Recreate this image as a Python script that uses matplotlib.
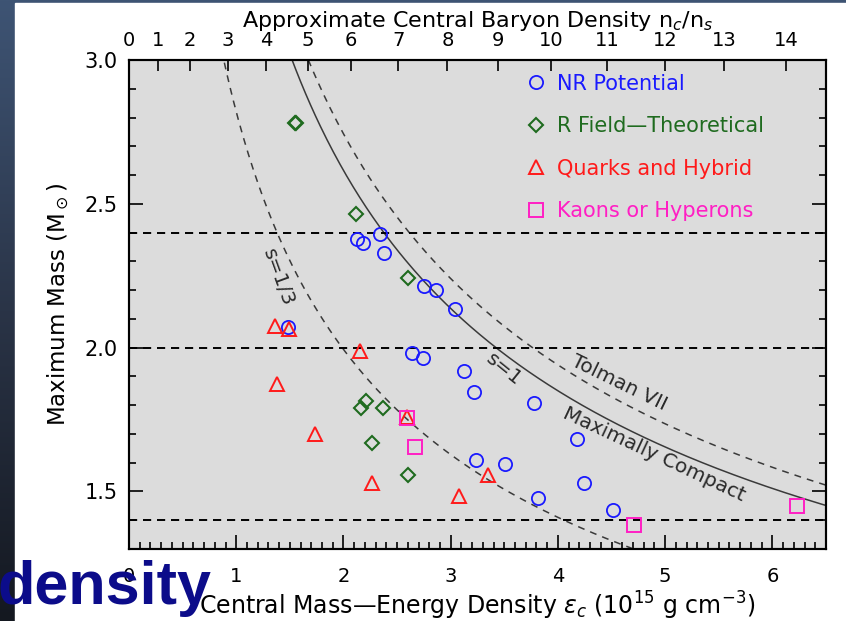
import numpy as np
import matplotlib
matplotlib.use('Agg')
import matplotlib.pyplot as plt

from matplotlib.colors import LinearSegmentedColormap
from matplotlib.patches import Rectangle
from matplotlib.ticker import MultipleLocator, FormatStrFormatter

# central energy density (1e15 g/cm^3) and maximum mass (M_sun)
nr_eps = [1.48, 2.13, 2.18, 2.34, 2.38, 2.75, 2.86, 3.04, 2.64, 2.74,
          3.12, 3.22, 3.78, 4.18, 3.24, 3.51, 4.24, 3.81, 4.51]
nr_mass = [2.073, 2.378, 2.365, 2.396, 2.33, 2.215, 2.20, 2.135, 1.983, 1.965,
           1.92, 1.847, 1.809, 1.684, 1.611, 1.597, 1.531, 1.476, 1.434]

rf_eps = [1.55, 1.56, 2.12, 2.60, 2.21, 2.16, 2.37, 2.27, 2.60]
rf_mass = [2.78, 2.78, 2.465, 2.243, 1.816, 1.79, 1.79, 1.667, 1.556]

qh_eps = [1.36, 1.49, 2.15, 1.38, 2.59, 1.73, 2.27, 3.35, 3.08]
qh_mass = [2.076, 2.066, 1.99, 1.872, 1.76, 1.70, 1.528, 1.556, 1.483]

kh_eps = [2.59, 2.67, 4.71, 6.23]
kh_mass = [1.757, 1.653, 1.382, 1.451]

series_labels = ['NR Potential', 'R Field\u2014Theoretical', 'Quarks and Hybrid', 'Kaons or Hyperons']

# M = k / sqrt(eps) limits, k
k_compact = 3.70
k_tolman = 3.88
k_third = 2.82

mass_limits = [2.4, 2.0, 1.4]

# top axis: baryon density n_c/n_s and where each tick sits on the eps axis
top_labels = list(range(15))
top_tick_eps = [0.0, 0.27, 0.57, 0.92, 1.28, 1.67, 2.07, 2.51, 2.97, 3.44,
                3.94, 4.46, 5.00, 5.55, 6.13]


def main():
    W, H = 846, 621
    fig = plt.figure(figsize=(W / 100, H / 100), dpi=100)
    plt.rcParams['font.family'] = ['DejaVu Sans']

    # slide background
    bg = fig.add_axes([0, 0, 1, 1])
    cmap = LinearSegmentedColormap.from_list('slide', ['#141820', '#2a3447', '#3e5474'])
    grad = np.linspace(0, 1, 256).reshape(-1, 1)
    bg.imshow(grad, aspect='auto', cmap=cmap, extent=[0, 1, 0, 1], origin='lower')
    bg.add_patch(Rectangle((15 / W, 0), 1, 1 - 3 / H, color='white'))
    bg.set_xlim(0, 1)
    bg.set_ylim(0, 1)
    bg.axis('off')

    ax = fig.add_axes([129 / W, 1 - 549 / H, 697 / W, 489 / H])
    ax.set_facecolor('#dcdcdc')
    ax.set_xlim(0, 6.5)
    ax.set_ylim(1.3, 3.0)

    eps = np.linspace(0.5, 6.6, 400)
    ax.plot(eps, k_compact / np.sqrt(eps), color='#3a3a3a', lw=1.1)
    ax.plot(eps, k_tolman / np.sqrt(eps), color='#3a3a3a', lw=1.1, dashes=(4.5, 4))
    ax.plot(eps, k_third / np.sqrt(eps), color='#3a3a3a', lw=1.1, dashes=(4.5, 4))
    for m in mass_limits:
        ax.axhline(m, color='black', lw=1.4, dashes=(4.2, 3))

    h1, = ax.plot(nr_eps, nr_mass, 'o', ms=9.5, mfc='none', mec='#1a1aff', mew=1.3,
                  ls='none', label=series_labels[0])
    h2, = ax.plot(rf_eps, rf_mass, 'D', ms=7.2, mfc='none', mec='#1f6b1f', mew=1.5,
                  ls='none', label=series_labels[1])
    h3, = ax.plot(qh_eps, qh_mass, '^', ms=9.5, mfc='none', mec='#ff1a1a', mew=1.4,
                  ls='none', label=series_labels[2])
    h4, = ax.plot(kh_eps, kh_mass, 's', ms=9.5, mfc='none', mec='#ff1fc4', mew=1.4,
                  ls='none', label=series_labels[3])

    ax.legend(handles=[h1, h2, h3, h4], loc='upper left', bbox_to_anchor=(0.571, 0.972),
              frameon=False, fontsize=15, handlelength=0.9, handletextpad=0.55,
              labelspacing=1.08, borderpad=0, borderaxespad=0,
              labelcolor='markeredgecolor')

    txt = dict(color='#2a2a2a', fontsize=14.5, ha='center', va='center', rotation_mode='anchor')
    ax.text(1.39, 2.243, 's=1/3', rotation=-70, **txt)
    ax.text(3.50, 1.924, 's=1', rotation=-39, **txt)
    ax.text(4.57, 1.878, 'Tolman VII', rotation=-26, **txt)
    ax.text(4.90, 1.628, 'Maximally Compact', rotation=-25, **txt)

    top = ax.twiny()
    top.set_xlim(ax.get_xlim())
    top.set_xticks(top_tick_eps)
    top.set_xticklabels([str(n) for n in top_labels])
    top.tick_params(axis='x', direction='in', length=8, width=1.2, labelsize=14, pad=7)
    top.set_xlabel('Approximate Central Baryon Density n$_c$/n$_s$', fontsize=16, labelpad=3)

    ax.xaxis.set_major_locator(MultipleLocator(1))
    ax.xaxis.set_minor_locator(MultipleLocator(0.1))
    ax.yaxis.set_major_locator(MultipleLocator(0.5))
    ax.yaxis.set_minor_locator(MultipleLocator(0.1))
    ax.set_yticks([1.5, 2.0, 2.5, 3.0])
    ax.tick_params(which='both', direction='in', top=False, right=True, width=1.2)
    ax.tick_params(which='major', length=10)
    ax.tick_params(which='minor', length=5)
    ax.tick_params(axis='x', labelsize=14, pad=13)
    ax.tick_params(axis='y', labelsize=15, pad=8)
    ax.yaxis.set_major_formatter(FormatStrFormatter('%.1f'))

    ax.set_xlabel('Central Mass\u2014Energy Density $\\epsilon_c$ (10$^{15}$ g cm$^{-3}$)',
                  fontsize=17, labelpad=3)
    ax.set_ylabel('Maximum Mass (M$_\\odot$)', fontsize=16.5, labelpad=9)

    for a in (ax, top):
        for s in a.spines.values():
            s.set_linewidth(1.5)

    fig.text(-2 / W, 1 - 604 / H, 'density', fontsize=44, fontweight='bold',
             family='Liberation Sans', color='#0c0c8a', va='baseline', ha='left')

    fig.savefig('out.png', dpi=100)


if __name__ == '__main__':
    main()
